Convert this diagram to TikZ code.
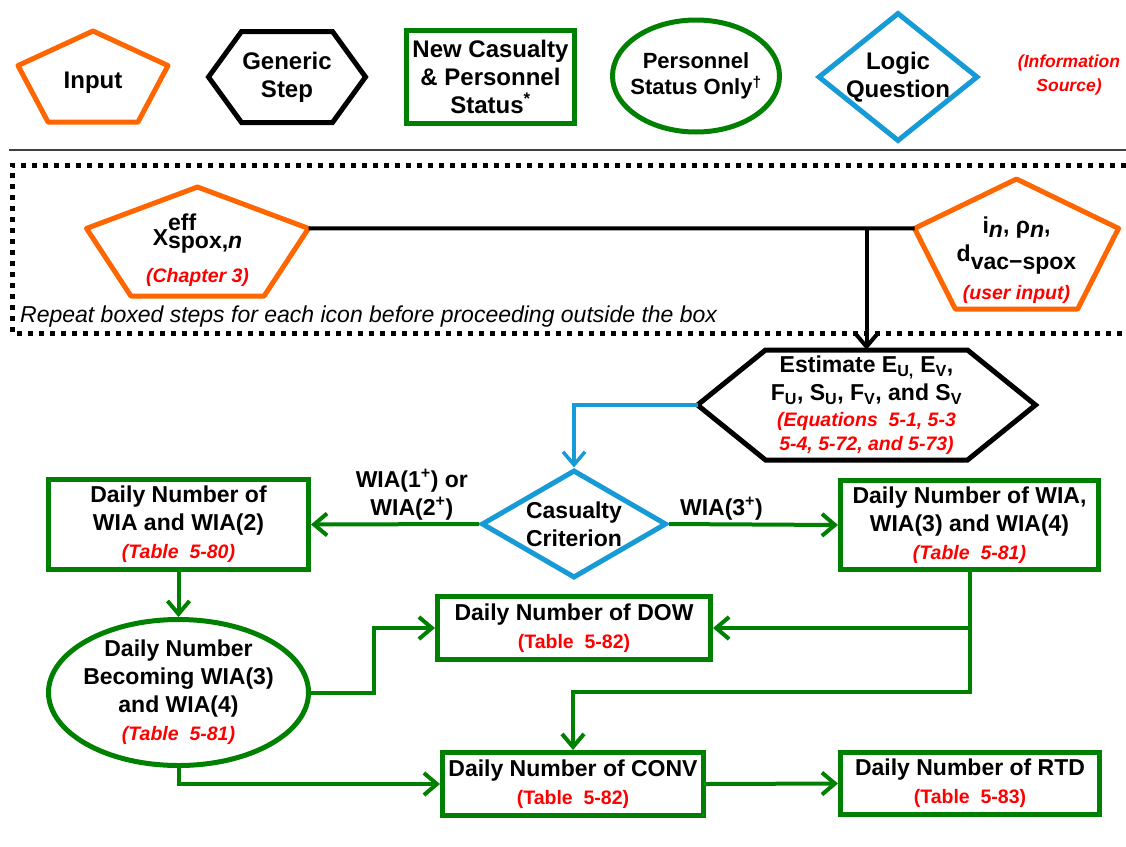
\documentclass[tikz,border=0pt]{standalone}
\usepackage{fontspec}
\setmainfont{Liberation Sans}
\usetikzlibrary{arrows.meta,calc,shapes.geometric}

\definecolor{inorange}{RGB}{255,102,0}
\definecolor{stgreen}{RGB}{0,128,0}
\definecolor{qblue}{RGB}{23,155,214}
\definecolor{srcred}{RGB}{255,0,0}

\newcommand{\srcit}[1]{{\fontsize{19.5}{22}\selectfont\itshape\color{srcred}#1}}
\newcommand{\srcup}[1]{{\fontsize{19.5}{22}\selectfont\color{srcred}#1}}

% node, width, height, shift of the shape below the text
\newcommand{\pentaround}[4]{
\coordinate (#1-n) at ($(#1)+(0,{#4-#3/2})$);
\coordinate (#1-w) at ($(#1)+({-#2/2},{#4-0.12*#3})$);
\coordinate (#1-e) at ($(#1)+({#2/2},{#4-0.12*#3})$);
\draw[inputline] (#1-n) -- (#1-w) -- ($(#1)+({-0.3*#2},{#4+#3/2})$) -- ($(#1)+({0.3*#2},{#4+#3/2})$) -- (#1-e) -- cycle;
}

% node, width, height, inset of the points
\newcommand{\hexaround}[4]{
\coordinate (#1-w) at ($(#1)+({-#2/2},0)$);
\coordinate (#1-e) at ($(#1)+({#2/2},0)$);
\draw[stepline] (#1-w) -- ($(#1)+({-#2/2+#4},{-#3/2})$) -- ($(#1)+({#2/2-#4},{-#3/2})$) -- (#1-e) -- ($(#1)+({#2/2-#4},{#3/2})$) -- ($(#1)+({-#2/2+#4},{#3/2})$) -- cycle;
}

\tikzset{
every node/.style={font=\fontsize{23}{28}\selectfont\bfseries, align=center},
legtext/.style={font=\fontsize{24}{28}\selectfont\bfseries},
inputline/.style={draw=inorange, line width=5pt, line join=round},
stepline/.style={draw=black, line width=5pt},
statusbox/.style={draw=stgreen, line width=5pt, rectangle, inner sep=0pt},
statusoval/.style={draw=stgreen, line width=5pt, ellipse, inner sep=0pt},
question/.style={draw=qblue, line width=5pt, diamond, inner sep=0pt},
flow/.style={draw=stgreen, line width=4pt, -{Straight Barb[length=13pt,width=22pt]}},
dotframe/.style={line width=5pt, dash pattern=on 5pt off 6pt},
}

\begin{document}
\begin{tikzpicture}[x=1pt,y=-1pt]
\path[use as bounding box, fill=white] (0,0) rectangle (1126,846);

\node[legtext] (leginput) at (93,83) {Input};
\pentaround{leginput}{150}{91}{-6.5}

\node[legtext] (leggeneric) at (287,77) {Generic\\Step};
\hexaround{leggeneric}{157}{91}{33}

\node[statusbox, legtext, minimum width=168, minimum height=93] (legstatus) at (490.5,77) {New Casualty\\\& Personnel\\Status\textsuperscript{*}};

\node[statusoval, font=\fontsize{22}{26}\selectfont\bfseries, inner xsep=-18pt, minimum width=167, minimum height=112] (legoval) at (696,76) {Personnel\\Status Only\textsuperscript{†}};

\node[question, legtext, inner sep=-3pt, aspect=1.23, minimum width=160, minimum height=129] (legquestion) at (898,77) {Logic\\Question};

\node[text=srcred, font=\fontsize{17.5}{24}\selectfont\bfseries\itshape] (legsource) at (1069,75) {(Information\\Source)};

\draw[line width=2pt, black!75] (9,150) -- (1126,150);
\draw[dotframe] (1126,165) -- (12,165) -- (12,333) -- (1126,333);

\node (xeff) at (197.5,250) {X\makebox[0pt][l]{\raisebox{15pt}{eff}}\raisebox{-3pt}{spox,\textit{n}}\\[9pt]\srcit{(Chapter 3)}};
\pentaround{xeff}{222}{109}{-8.5}

\node (userin) at (1016.5,260) {i\raisebox{-4pt}{\textit{n}}, ρ\raisebox{-4pt}{\textit{n}},\\d\raisebox{-8pt}{vac−spox}\\[10pt]\srcit{(user input)}};
\pentaround{userin}{204}{130}{-16}

\node[anchor=base west, inner sep=0pt, font=\fontsize{23}{28}\selectfont\itshape] (repeatnote) at (20,322) {Repeat boxed steps for each icon before proceeding outside the box};

\node[inner sep=0pt, minimum width=338, minimum height=110] (estimate) at (866.5,405) {Estimate E\textsubscript{U,} E\textsubscript{V},\\F\textsubscript{U}, S\textsubscript{U}, F\textsubscript{V}, and S\textsubscript{V}\\[-2pt]\srcit{(Equations~ 5-1, 5-3}\\[-4pt]\srcit{5-4, 5-72, and 5-73)}};
\hexaround{estimate}{338}{110}{68}

\node[question, aspect=1.68, minimum width=185, minimum height=108] (crit) at (574,524) {Casualty\\Criterion};

\node[statusbox, minimum width=260, minimum height=90] (wia2) at (178.5,524.5) {Daily Number of\\WIA and WIA(2)\\\srcit{(Table~ 5-80)}};
\node[statusbox, minimum width=258, minimum height=89] (wia34) at (969.5,525) {Daily Number of WIA,\\WIA(3) and WIA(4)\\\srcit{(Table~ 5-81)}};
\node[statusoval, inner xsep=-4pt, inner ysep=-3pt, minimum width=260, minimum height=146] (becoming) at (178.5,692.5) {Daily Number\\Becoming WIA(3)\\and WIA(4)\\\srcit{(Table~ 5-81)}};
\node[statusbox, minimum width=273, minimum height=63] (dow) at (574,628) {Daily Number of DOW\\\srcup{(Table~ 5-82)}};
\node[statusbox, minimum width=261, minimum height=63] (conv) at (573,784) {Daily Number of CONV\\\srcup{(Table~ 5-82)}};
\node[statusbox, minimum width=259, minimum height=62] (rtd) at (970,783.5) {Daily Number of RTD\\\srcup{(Table~ 5-83)}};

\draw[line width=4pt] (xeff-e) -- (userin-w);
\draw[line width=4pt, -{Straight Barb[length=13pt,width=22pt]}] (xeff-e -| estimate.north) -- (estimate.north);
\draw[qblue, line width=3.5pt, -{Straight Barb[length=13pt,width=22pt]}] (estimate-w) -| (crit.north);

\draw[flow] (crit.west) -- node[above=2pt, pos=0.4, inner sep=0pt] {WIA(1\textsuperscript{+}) or\\WIA(2\textsuperscript{+})} (wia2.east);
\draw[flow] (crit.east) -- node[above=2pt, pos=0.31, inner sep=0pt] {WIA(3\textsuperscript{+})} (wia34.west);
\draw[flow] (wia2.south) -- (becoming.north);
\draw[flow] (becoming.east) -- ++(63,0) |- (dow.west);
\draw[flow] (becoming.south) |- (conv.west);
\draw[flow] (wia34.south) |- (dow.east);
\draw[flow] (wia34.south) -- ++(0,120) -| (conv.north);
\draw[flow] (conv.east) -- (rtd.west);
\end{tikzpicture}
\end{document}
